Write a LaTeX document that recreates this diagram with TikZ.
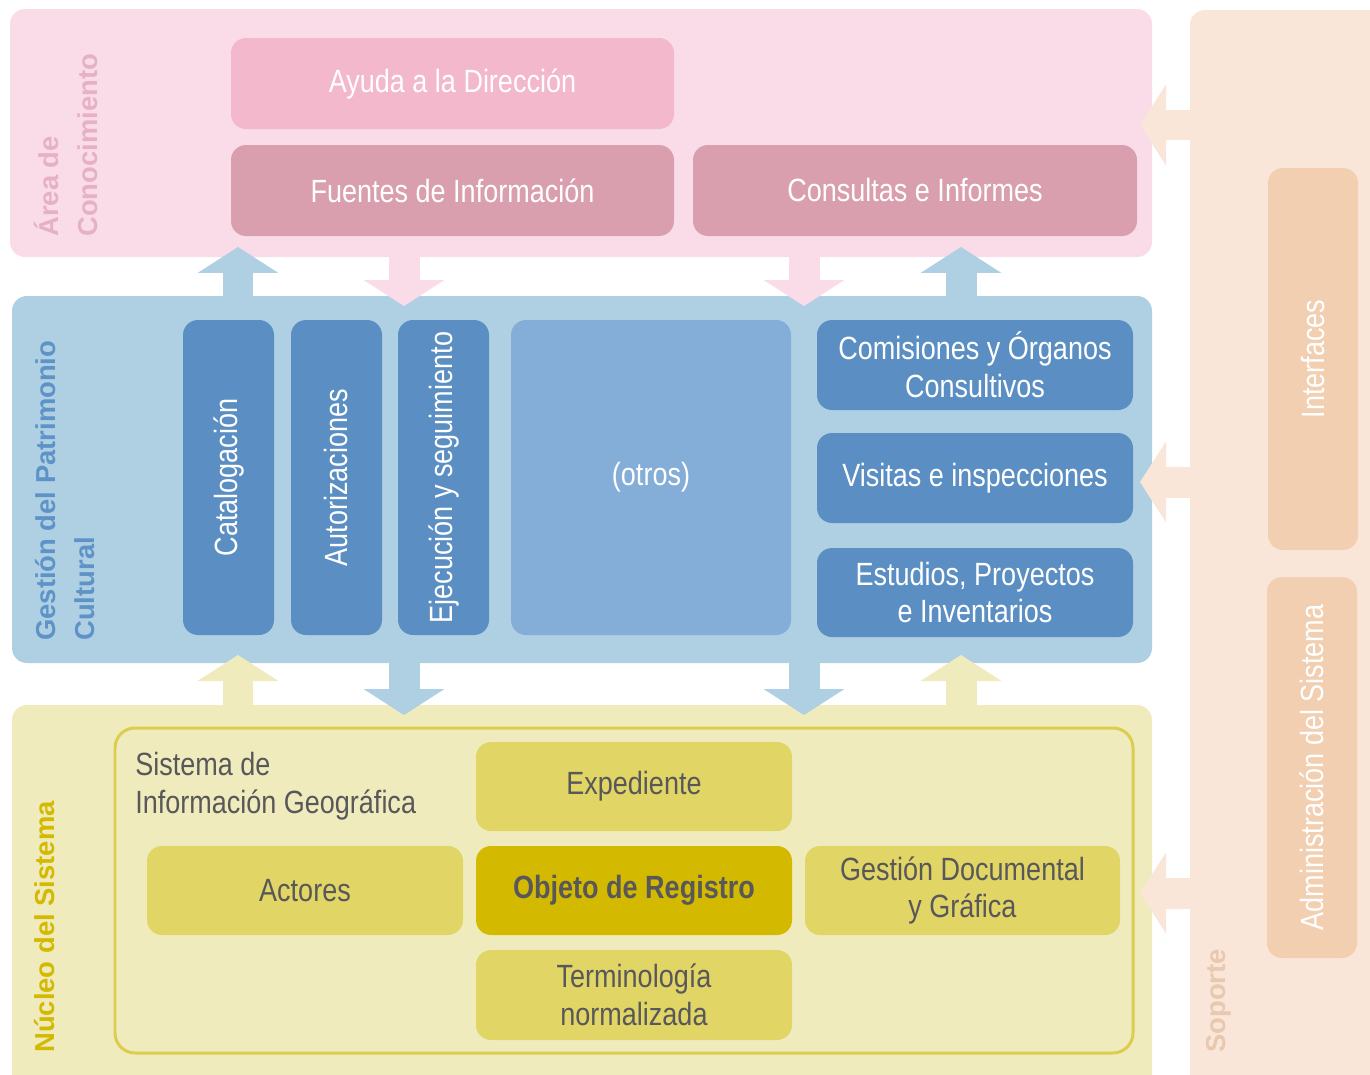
\documentclass[tikz,border=0pt]{standalone}
\usepackage{fontspec}
\setmainfont{Liberation Sans}
\newfontfamily\narrowfont[FakeStretch=0.84]{Liberation Sans}
\usetikzlibrary{positioning}
\usetikzlibrary{fit}
\usetikzlibrary{arrows.meta}

\definecolor{pinkbg}{HTML}{F9DCE8}
\definecolor{pinkbox}{HTML}{F3B8CB}
\definecolor{rosebox}{HTML}{D99FAE}
\definecolor{pinklabel}{HTML}{E6B2C3}
\definecolor{bluebg}{HTML}{AFCFE2}
\definecolor{bluebox}{HTML}{5B8FC3}
\definecolor{bluelight}{HTML}{84ADD8}
\definecolor{bluelabel}{HTML}{5E93C8}
\definecolor{yellowbg}{HTML}{F0EBBD}
\definecolor{yellowbox}{HTML}{E1D566}
\definecolor{yellowdark}{HTML}{D3B900}
\definecolor{yellowline}{HTML}{DCCD50}
\definecolor{peachbg}{HTML}{F9E6D9}
\definecolor{peachbox}{HTML}{F2CFB1}
\definecolor{peachlabel}{HTML}{E8C8AE}
\definecolor{textgray}{HTML}{58585A}

\newcommand{\boxtype}{\narrowfont\fontsize{18.3}{21.5}\selectfont}
\newcommand{\labeltype}{\bfseries\fontsize{15.6}{22}\selectfont}

\begin{document}
\begin{tikzpicture}[x=0.02cm, y=-0.02cm,
        panel/.style={rounded corners=0.3cm, inner sep=0pt},
        box/.style={rounded corners=0.3cm, inner sep=0pt},
        boxtext/.style={inner sep=0pt, text=white, align=center, font=\boxtype},
        darktext/.style={boxtext, text=textgray},
        vtext/.style={boxtext, rotate=90},
        sidelabel/.style={rotate=90, anchor=north west, align=left, inner sep=0pt, font=\labeltype},
        bigarrow/.style={line width=0.62cm, -{Triangle[length=0.52cm, width=1.62cm, line width=0pt]}}]
    \useasboundingbox (0,0) rectangle (1370,1075);

    % capas
    \node[panel, fill=pinkbg, fit={(10,9) (1152,257)}] (conocimiento) {};
    \node[panel, fill=bluebg, fit={(12,296) (1152,663)}] (gestion) {};
    \node[panel, fill=yellowbg, fit={(12,705) (1152,1095)}] (nucleo) {};
    \node[panel, fill=peachbg, fit={(1190,10) (1400,1100)}] (soporte) {};

    \node[sidelabel, text=pinklabel] (conocimiento-t) at (34,237) {Área de\\Conocimiento};
    \node[sidelabel, text=bluelabel] (gestion-t) at (35,641) {Gestión del Patrimonio\\Cultural};
    \node[sidelabel, text=yellowdark] (nucleo-t) at (34,1053) {Núcleo del Sistema};
    \node[sidelabel, text=peachlabel] (soporte-t) at (1206,1053) {Soporte};

    % area de conocimiento
    \node[box, fill=pinkbox, fit={(231,38) (674,129)}] (ayuda) {};
    \node[boxtext] (ayuda-t) at (ayuda) {Ayuda a la Dirección};
    \node[box, fill=rosebox, fit={(231,145) (674,236)}] (fuentes) {};
    \node[boxtext] (fuentes-t) at (fuentes) {Fuentes de Información};
    \node[box, fill=rosebox, fit={(693,145) (1137,236)}] (consultas) {};
    \node[boxtext] (consultas-t) at (consultas) {Consultas e Informes};

    % gestion
    \node[box, fill=bluebox, fit={(183,320) (274,635)}] (catalogacion) {};
    \node[vtext] (catalogacion-t) at (catalogacion) {Catalogación};
    \node[box, fill=bluebox, fit={(291,320) (382,635)}] (autorizaciones) {};
    \node[vtext] (autorizaciones-t) at (autorizaciones) {Autorizaciones};
    \node[box, fill=bluebox, fit={(398,320) (489,635)}] (ejecucion) {};
    \node[vtext] (ejecucion-t) at (ejecucion) {Ejecución y seguimiento};
    \node[box, fill=bluelight, fit={(511,320) (791,635)}] (otros) {};
    \node[boxtext] (otros-t) at (otros) {(otros)};
    \node[box, fill=bluebox, fit={(817,320) (1133,410)}] (comisiones) {};
    \node[boxtext] (comisiones-t) at (comisiones) {Comisiones y Órganos\\Consultivos};
    \node[box, fill=bluebox, fit={(817,433) (1133,523)}] (visitas) {};
    \node[boxtext] (visitas-t) at (visitas) {Visitas e inspecciones};
    \node[box, fill=bluebox, fit={(817,548) (1133,637)}] (estudios) {};
    \node[boxtext] (estudios-t) at (estudios) {Estudios, Proyectos\\e Inventarios};

    % nucleo
    \node[panel, draw=yellowline, line width=1.7pt, rounded corners=0.4cm, fit={(115,728) (1133,1053)}] (marco) {};
    \node[darktext, anchor=north west, align=left] (sig) at (135,752) {Sistema de\\Información Geográfica};
    \node[box, fill=yellowbox, fit={(476,742) (792,831)}] (expediente) {};
    \node[darktext] (expediente-t) at (expediente) {Expediente};
    \node[box, fill=yellowbox, fit={(147,846) (463,935)}] (actores) {};
    \node[darktext] (actores-t) at (actores) {Actores};
    \node[box, fill=yellowdark, fit={(476,846) (792,935)}] (objeto) {};
    \node[darktext, font=\boxtype\bfseries] (objeto-t) at (objeto) {Objeto de Registro};
    \node[box, fill=yellowbox, fit={(805,846) (1120,935)}] (documental) {};
    \node[darktext] (documental-t) at (documental) {Gestión Documental\\y Gráfica};
    \node[box, fill=yellowbox, fit={(476,950) (792,1040)}] (terminologia) {};
    \node[darktext] (terminologia-t) at (terminologia) {Terminología\\normalizada};

    % soporte
    \node[box, fill=peachbox, fit={(1268,168) (1358,550)}] (interfaces) {};
    \node[vtext] (interfaces-t) at (interfaces) {Interfaces};
    \node[box, fill=peachbox, fit={(1267,577) (1357,958)}] (admin) {};
    \node[vtext] (admin-t) at (admin) {Administración del Sistema};

    % flechas
    \coordinate (up1) at (238,247);
    \coordinate (dn1) at (404,306);
    \coordinate (dn2) at (804,306);
    \coordinate (up2) at (961,247);
    \coordinate (up3) at (238,655);
    \coordinate (dn3) at (404,715);
    \coordinate (dn4) at (804,715);
    \coordinate (up4) at (961,655);
    \coordinate (lt1) at (1140,125);
    \coordinate (lt2) at (1140,482);
    \coordinate (lt3) at (1140,893);

    \draw[bigarrow, bluebg] (gestion.north -| up1) -- (up1);
    \draw[bigarrow, pinkbg] (conocimiento.south -| dn1) -- (dn1);
    \draw[bigarrow, pinkbg] (conocimiento.south -| dn2) -- (dn2);
    \draw[bigarrow, bluebg] (gestion.north -| up2) -- (up2);
    \draw[bigarrow, yellowbg] (nucleo.north -| up3) -- (up3);
    \draw[bigarrow, bluebg] (gestion.south -| dn3) -- (dn3);
    \draw[bigarrow, bluebg] (gestion.south -| dn4) -- (dn4);
    \draw[bigarrow, yellowbg] (nucleo.north -| up4) -- (up4);
    \draw[bigarrow, peachbg] (soporte.west |- lt1) -- (lt1);
    \draw[bigarrow, peachbg] (soporte.west |- lt2) -- (lt2);
    \draw[bigarrow, peachbg] (soporte.west |- lt3) -- (lt3);
\end{tikzpicture}
\end{document}
